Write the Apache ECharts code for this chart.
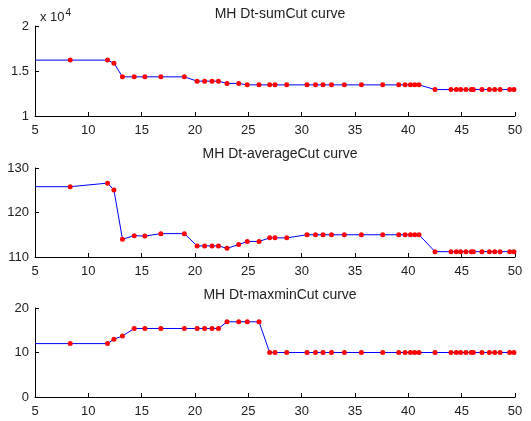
<!DOCTYPE html>
<html>
<head>
<meta charset="utf-8">
<script src="https://cdn.jsdelivr.net/npm/echarts@6/dist/echarts.min.js"></script>
<style>html,body{margin:0;padding:0;background:#fff;}#c{width:531px;height:421px;}</style>
</head>
<body>
<div id="c"></div>
<script>
var xs = [5, 8.3, 11.8, 12.4, 13.2, 14.3, 15.3, 16.8, 19.0, 20.2, 20.9, 21.6, 22.2, 23.0, 24.1, 24.9, 26.0, 27.0, 27.5, 28.6, 30.5, 31.3, 32.0, 32.8, 34.0, 35.6, 37.6, 39.1, 39.7, 40.2, 40.6, 41.0, 42.5, 44.0, 44.5, 44.9, 45.4, 45.9, 46.1, 46.9, 47.6, 48.1, 48.6, 49.5, 49.9];
var sumCut = [16210, 16210, 16210, 15870, 14350, 14350, 14350, 14350, 14350, 13870, 13870, 13870, 13870, 13620, 13620, 13460, 13460, 13460, 13460, 13460, 13460, 13460, 13460, 13460, 13460, 13460, 13460, 13460, 13460, 13460, 13460, 13460, 12940, 12940, 12940, 12940, 12940, 12940, 12940, 12940, 12940, 12940, 12940, 12940, 12940];
var averageCut = [125.8, 125.8, 126.6, 125.05, 114.0, 114.8, 114.7, 115.25, 115.25, 112.5, 112.5, 112.5, 112.5, 111.95, 112.8, 113.5, 113.5, 114.3, 114.3, 114.3, 115.0, 115.0, 115.0, 115.0, 115.0, 115.0, 115.0, 115.0, 115.0, 115.0, 115.0, 115.0, 111.2, 111.2, 111.2, 111.2, 111.2, 111.2, 111.2, 111.2, 111.2, 111.2, 111.2, 111.2, 111.2];
var maxminCut = [12, 12, 12, 13, 13.7, 15.4, 15.4, 15.4, 15.4, 15.4, 15.4, 15.4, 15.4, 16.9, 16.9, 16.9, 16.9, 10, 10, 10, 10, 10, 10, 10, 10, 10, 10, 10, 10, 10, 10, 10, 10, 10, 10, 10, 10, 10, 10, 10, 10, 10, 10, 10, 10];
var titles = ['MH Dt-sumCut curve', 'MH Dt-averageCut curve', 'MH Dt-maxminCut curve'];
var yRanges = [[10000, 20000, 5000], [110, 130, 10], [0, 20, 10]];
var xTicks = [5, 50, 5];

var series = [sumCut, averageCut, maxminCut];
var grids = [
  {left: 35, top: 26, width: 480, height: 90},
  {left: 35, top: 168, width: 480, height: 89},
  {left: 35, top: 308, width: 480, height: 89}
];
var titleTops = [2, 142, 283];
var font = 'Liberation Sans, Arial, sans-serif';
var txt = '#222';

function pts(ys) {
  return xs.map(function (x, i) {
    var d = {value: [x, ys[i]]};
    if (i === 0) d.symbol = 'none';
    return d;
  });
}

var option = {
  animation: false,
  backgroundColor: '#fff',
  title: titles.map(function (t, i) {
    return {text: t, left: 275, top: titleTops[i], textAlign: 'center',
      textStyle: {fontSize: 14, fontWeight: 'normal', color: txt, fontFamily: font}};
  }).concat([{
    text: 'x 10{s|4}', left: 35, top: 3,
    textStyle: {fontSize: 13, fontWeight: 'normal', color: txt, fontFamily: font,
      rich: {s: {fontSize: 10, verticalAlign: 'top', padding: [0, 0, 9, 1], color: txt, fontFamily: font}}}
  }]),
  grid: grids,
  xAxis: grids.map(function (g, i) {
    return {type: 'value', gridIndex: i, min: xTicks[0], max: xTicks[1], interval: xTicks[2],
      axisLine: {lineStyle: {color: '#000', width: 1}},
      axisTick: {inside: true, length: 4, lineStyle: {color: '#000'}},
      axisLabel: {color: txt, fontSize: 13, fontFamily: font, margin: 8},
      splitLine: {show: false}};
  }),
  yAxis: grids.map(function (g, i) {
    var r = yRanges[i];
    return {type: 'value', gridIndex: i, min: r[0], max: r[1], interval: r[2],
      axisLine: {show: true, lineStyle: {color: '#000', width: 1}},
      axisTick: {show: true, inside: true, length: 4, lineStyle: {color: '#000'}},
      axisLabel: {color: txt, fontSize: 13, fontFamily: font, margin: 6,
        formatter: i === 0 ? function (v) { return String(v / 10000); } : null},
      splitLine: {show: false}};
  }),
  series: series.map(function (ys, i) {
    return {type: 'line', xAxisIndex: i, yAxisIndex: i, data: pts(ys),
      symbol: 'circle', symbolSize: 5, showAllSymbol: true,
      lineStyle: {color: '#0000ff', width: 1},
      itemStyle: {color: '#ff0000'}};
  })
};
echarts.init(document.getElementById('c')).setOption(option);
</script>
</body>
</html>
